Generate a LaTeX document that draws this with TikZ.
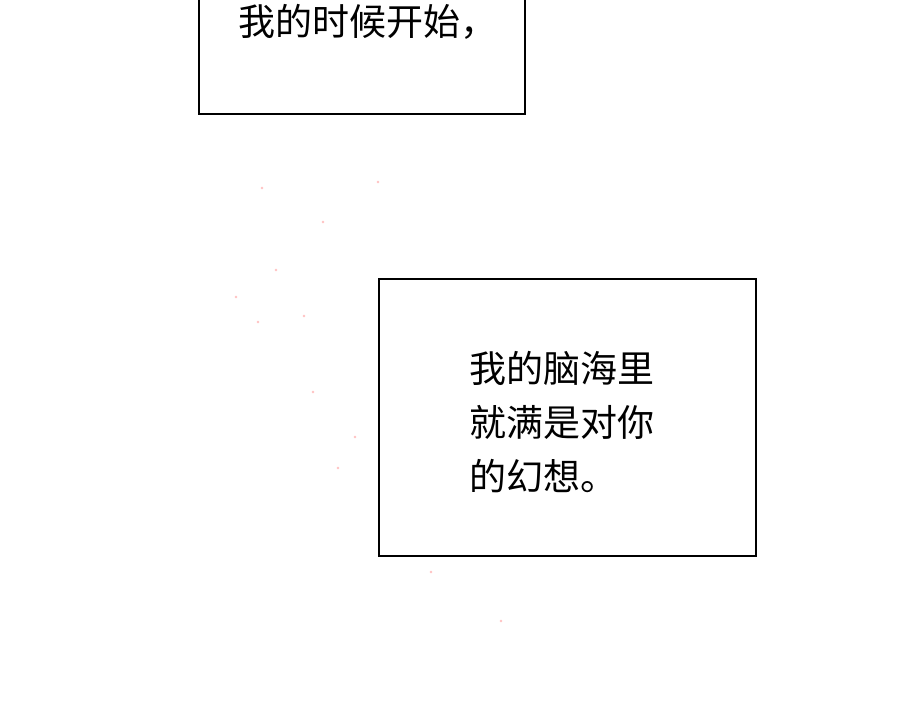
\documentclass[tikz,border=0pt]{standalone}
\usepackage{fontspec}
\newfontfamily\cjk{Noto Sans CJK SC}
\tikzset{
  panel/.style={draw=black, line width=2pt, fill=white},
  speech/.style={font=\cjk\fontsize{37}{54}\selectfont, align=left, text=black},
  petal/.style={fill=pink!80!red!60}
}
\begin{document}
\begin{tikzpicture}[x=1pt,y=-1pt]
  \useasboundingbox[fill=white] (0,0) rectangle (900,703);

  % petals
  \foreach \px/\py in {323/222, 304/316, 276/270, 258/322, 355/437, 338/468, 313/392, 431/572, 501/621, 236/297, 262/188, 378/182}
    \fill[petal] (\px,\py) circle (1.3);

  % upper box
  \draw[panel] (199,-5) rectangle (525,114);
  \node[speech] (top) at (368,22) {我的时候开始，};

  % lower box
  \draw[panel] (379,279) rectangle (756,556);
  \node[speech, anchor=west] (mid) at (466,422)
    {我的脑海里\\就满是对你\\的幻想。};
\end{tikzpicture}
\end{document}
